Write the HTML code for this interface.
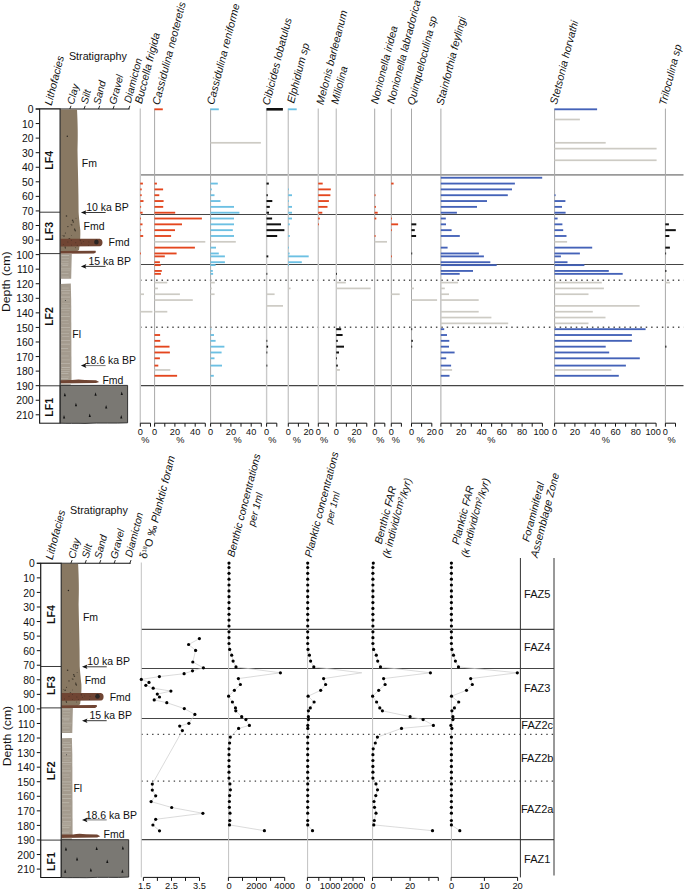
<!DOCTYPE html>
<html><head><meta charset="utf-8"><style>
html,body{margin:0;padding:0;background:#fff;overflow:hidden;width:685px;height:891px;}
svg{display:block;}
text{font-family:"Liberation Sans",sans-serif;fill:#111;}
</style></head><body>
<svg width="685" height="891" viewBox="0 0 685 891">
<g id="strat">
<line x1="39.7" y1="109" x2="39.7" y2="423.3" stroke="#111" stroke-width="1"/>
<line x1="35.7" y1="109.00" x2="39.7" y2="109.00" stroke="#111" stroke-width="1"/>
<text x="33.6" y="113.10" text-anchor="end" font-size="10.4">0</text>
<line x1="35.7" y1="123.56" x2="39.7" y2="123.56" stroke="#111" stroke-width="1"/>
<text x="33.6" y="127.66" text-anchor="end" font-size="10.4">10</text>
<line x1="35.7" y1="138.12" x2="39.7" y2="138.12" stroke="#111" stroke-width="1"/>
<text x="33.6" y="142.22" text-anchor="end" font-size="10.4">20</text>
<line x1="35.7" y1="152.69" x2="39.7" y2="152.69" stroke="#111" stroke-width="1"/>
<text x="33.6" y="156.79" text-anchor="end" font-size="10.4">30</text>
<line x1="35.7" y1="167.25" x2="39.7" y2="167.25" stroke="#111" stroke-width="1"/>
<text x="33.6" y="171.35" text-anchor="end" font-size="10.4">40</text>
<line x1="35.7" y1="181.81" x2="39.7" y2="181.81" stroke="#111" stroke-width="1"/>
<text x="33.6" y="185.91" text-anchor="end" font-size="10.4">50</text>
<line x1="35.7" y1="196.37" x2="39.7" y2="196.37" stroke="#111" stroke-width="1"/>
<text x="33.6" y="200.47" text-anchor="end" font-size="10.4">60</text>
<line x1="35.7" y1="210.93" x2="39.7" y2="210.93" stroke="#111" stroke-width="1"/>
<text x="33.6" y="215.03" text-anchor="end" font-size="10.4">70</text>
<line x1="35.7" y1="225.50" x2="39.7" y2="225.50" stroke="#111" stroke-width="1"/>
<text x="33.6" y="229.60" text-anchor="end" font-size="10.4">80</text>
<line x1="35.7" y1="240.06" x2="39.7" y2="240.06" stroke="#111" stroke-width="1"/>
<text x="33.6" y="244.16" text-anchor="end" font-size="10.4">90</text>
<line x1="35.7" y1="254.62" x2="39.7" y2="254.62" stroke="#111" stroke-width="1"/>
<text x="33.6" y="258.72" text-anchor="end" font-size="10.4">100</text>
<line x1="35.7" y1="269.18" x2="39.7" y2="269.18" stroke="#111" stroke-width="1"/>
<text x="33.6" y="273.28" text-anchor="end" font-size="10.4">110</text>
<line x1="35.7" y1="283.74" x2="39.7" y2="283.74" stroke="#111" stroke-width="1"/>
<text x="33.6" y="287.84" text-anchor="end" font-size="10.4">120</text>
<line x1="35.7" y1="298.31" x2="39.7" y2="298.31" stroke="#111" stroke-width="1"/>
<text x="33.6" y="302.41" text-anchor="end" font-size="10.4">130</text>
<line x1="35.7" y1="312.87" x2="39.7" y2="312.87" stroke="#111" stroke-width="1"/>
<text x="33.6" y="316.97" text-anchor="end" font-size="10.4">140</text>
<line x1="35.7" y1="327.43" x2="39.7" y2="327.43" stroke="#111" stroke-width="1"/>
<text x="33.6" y="331.53" text-anchor="end" font-size="10.4">150</text>
<line x1="35.7" y1="341.99" x2="39.7" y2="341.99" stroke="#111" stroke-width="1"/>
<text x="33.6" y="346.09" text-anchor="end" font-size="10.4">160</text>
<line x1="35.7" y1="356.55" x2="39.7" y2="356.55" stroke="#111" stroke-width="1"/>
<text x="33.6" y="360.65" text-anchor="end" font-size="10.4">170</text>
<line x1="35.7" y1="371.12" x2="39.7" y2="371.12" stroke="#111" stroke-width="1"/>
<text x="33.6" y="375.22" text-anchor="end" font-size="10.4">180</text>
<line x1="35.7" y1="385.68" x2="39.7" y2="385.68" stroke="#111" stroke-width="1"/>
<text x="33.6" y="389.78" text-anchor="end" font-size="10.4">190</text>
<line x1="35.7" y1="400.24" x2="39.7" y2="400.24" stroke="#111" stroke-width="1"/>
<text x="33.6" y="404.34" text-anchor="end" font-size="10.4">200</text>
<line x1="35.7" y1="414.80" x2="39.7" y2="414.80" stroke="#111" stroke-width="1"/>
<text x="33.6" y="418.90" text-anchor="end" font-size="10.4">210</text>
<text transform="translate(9.9,281.8) rotate(-90)" text-anchor="middle" font-size="11.6" textLength="60.5" lengthAdjust="spacingAndGlyphs">Depth (cm)</text>
<line x1="35.7" y1="109" x2="129.6" y2="109" stroke="#111" stroke-width="1.1"/>
<line x1="69.8" y1="109" x2="71.0" y2="105.8" stroke="#111" stroke-width="0.9"/>
<line x1="84.0" y1="109" x2="85.2" y2="105.8" stroke="#111" stroke-width="0.9"/>
<line x1="98.5" y1="109" x2="99.7" y2="105.8" stroke="#111" stroke-width="0.9"/>
<line x1="113.0" y1="109" x2="114.2" y2="105.8" stroke="#111" stroke-width="0.9"/>
<line x1="128.7" y1="109" x2="129.9" y2="105.8" stroke="#111" stroke-width="0.9"/>
<rect x="39.7" y="109" width="20.5" height="314.2" fill="#fff" stroke="#111" stroke-width="1"/>
<line x1="39.7" y1="212.2" x2="60.2" y2="212.2" stroke="#222" stroke-width="0.9"/>
<line x1="39.7" y1="253.6" x2="60.2" y2="253.6" stroke="#222" stroke-width="0.9"/>
<line x1="39.7" y1="385.8" x2="60.2" y2="385.8" stroke="#222" stroke-width="0.9"/>
<text transform="translate(53.4,160.3) rotate(-90)" text-anchor="middle" font-size="10.5" font-weight="bold">LF4</text>
<text transform="translate(53.4,231.3) rotate(-90)" text-anchor="middle" font-size="10.5" font-weight="bold">LF3</text>
<text transform="translate(53.4,316.5) rotate(-90)" text-anchor="middle" font-size="10.5" font-weight="bold">LF2</text>
<text transform="translate(53.4,407.3) rotate(-90)" text-anchor="middle" font-size="10.5" font-weight="bold">LF1</text>
<path d="M60.2,109.5 L77,109.5 C77.8,125 78,135 77.5,150 C77.8,170 78.6,190 78.6,212 C79,218 79.5,222 80.3,230 C80.5,236 80.2,240 79.5,246 L79,250 L76.7,251.5 L60.2,251.5 Z" fill="#887862"/>
<circle cx="65.4" cy="233.0" r="0.57" fill="#3a3328"/>
<circle cx="71.5" cy="235.6" r="0.43" fill="#3a3328"/>
<circle cx="61.7" cy="242.6" r="0.52" fill="#3a3328"/>
<circle cx="65.4" cy="247.9" r="0.61" fill="#3a3328"/>
<circle cx="75.3" cy="230.7" r="0.69" fill="#3a3328"/>
<circle cx="64.0" cy="236.0" r="0.79" fill="#3a3328"/>
<circle cx="70.1" cy="239.5" r="0.70" fill="#3a3328"/>
<circle cx="62.6" cy="240.0" r="0.67" fill="#3a3328"/>
<circle cx="66.5" cy="216.0" r="0.79" fill="#3a3328"/>
<circle cx="69.3" cy="238.7" r="0.80" fill="#3a3328"/>
<circle cx="73.3" cy="245.4" r="0.58" fill="#3a3328"/>
<circle cx="74.7" cy="229.7" r="0.82" fill="#3a3328"/>
<circle cx="76.0" cy="218.2" r="0.46" fill="#3a3328"/>
<circle cx="65.1" cy="246.9" r="0.60" fill="#3a3328"/>
<circle cx="71.8" cy="224.9" r="0.63" fill="#3a3328"/>
<circle cx="67.9" cy="226.6" r="0.66" fill="#3a3328"/>
<circle cx="71.1" cy="244.8" r="0.71" fill="#3a3328"/>
<circle cx="76.8" cy="243.3" r="0.85" fill="#3a3328"/>
<circle cx="72.6" cy="220.4" r="0.79" fill="#3a3328"/>
<circle cx="77.4" cy="244.9" r="0.66" fill="#3a3328"/>
<circle cx="73.3" cy="222.0" r="0.77" fill="#3a3328"/>
<circle cx="71.0" cy="224.4" r="0.43" fill="#3a3328"/>
<circle cx="75.6" cy="247.7" r="0.44" fill="#3a3328"/>
<circle cx="74.7" cy="228.5" r="0.47" fill="#3a3328"/>
<circle cx="66.3" cy="240.4" r="0.79" fill="#3a3328"/>
<circle cx="62.2" cy="235.3" r="0.42" fill="#3a3328"/>
<circle cx="67.3" cy="136.2" r="0.7" fill="#2a2520"/>
<path d="M60.2,238.7 L99.8,238.7 C103.4,239.0 103.4,246.0 99.8,246.3 L60.2,246.4 Z" fill="#704533"/>
<ellipse cx="96.4" cy="242" rx="2.3" ry="2.5" fill="#2b2624"/>
<circle cx="83.6" cy="241.6" r="0.45" fill="#3a2a22"/>
<circle cx="88.4" cy="245.2" r="0.45" fill="#3a2a22"/>
<circle cx="77.2" cy="245.3" r="0.45" fill="#3a2a22"/>
<circle cx="71.3" cy="240.2" r="0.45" fill="#3a2a22"/>
<circle cx="80.0" cy="240.0" r="0.45" fill="#3a2a22"/>
<circle cx="67.9" cy="242.0" r="0.45" fill="#3a2a22"/>
<circle cx="80.3" cy="240.7" r="0.45" fill="#3a2a22"/>
<circle cx="63.3" cy="244.6" r="0.45" fill="#3a2a22"/>
<circle cx="71.4" cy="245.1" r="0.45" fill="#3a2a22"/>
<circle cx="88.9" cy="241.9" r="0.45" fill="#3a2a22"/>
<circle cx="75.8" cy="242.7" r="0.45" fill="#3a2a22"/>
<circle cx="81.3" cy="243.1" r="0.45" fill="#3a2a22"/>
<path d="M60.2,251 L95.5,250.8 L96,252.3 L94,253.6 L60.2,253.8 Z" fill="#704533"/>
<path d="M60.2,253.8 L71.8,253.8 L71.5,265 L71.2,278.8 L60.2,278.8 Z" fill="#a49b8e"/>
<path d="M60.2,284 L70.8,283.6 L71.2,300 L71.5,381 L60.2,381 Z" fill="#a49b8e"/>
<line x1="61.5" y1="255.5" x2="69.2" y2="255.5" stroke="#d2cdc5" stroke-width="0.55" opacity="0.91"/>
<line x1="61.6" y1="258.4" x2="69.1" y2="258.4" stroke="#d2cdc5" stroke-width="0.55" opacity="0.54"/>
<line x1="61.7" y1="261.4" x2="68.6" y2="261.4" stroke="#d2cdc5" stroke-width="0.55" opacity="0.50"/>
<line x1="60.9" y1="263.9" x2="68.6" y2="263.9" stroke="#d2cdc5" stroke-width="0.55" opacity="0.80"/>
<line x1="62.3" y1="265.6" x2="68.2" y2="265.6" stroke="#d2cdc5" stroke-width="0.55" opacity="0.78"/>
<line x1="61.0" y1="268.9" x2="70.6" y2="268.9" stroke="#d2cdc5" stroke-width="0.55" opacity="0.71"/>
<line x1="61.1" y1="270.7" x2="70.0" y2="270.7" stroke="#d2cdc5" stroke-width="0.55" opacity="0.47"/>
<line x1="61.5" y1="273.6" x2="68.5" y2="273.6" stroke="#d2cdc5" stroke-width="0.55" opacity="0.71"/>
<line x1="61.5" y1="277.0" x2="68.9" y2="277.0" stroke="#d2cdc5" stroke-width="0.55" opacity="0.68"/>
<line x1="62.1" y1="288.1" x2="68.8" y2="288.1" stroke="#d2cdc5" stroke-width="0.55" opacity="0.61"/>
<line x1="61.2" y1="290.4" x2="70.4" y2="290.4" stroke="#d2cdc5" stroke-width="0.55" opacity="0.83"/>
<line x1="62.1" y1="293.1" x2="69.6" y2="293.1" stroke="#d2cdc5" stroke-width="0.55" opacity="0.93"/>
<line x1="60.8" y1="297.1" x2="70.1" y2="297.1" stroke="#d2cdc5" stroke-width="0.55" opacity="0.91"/>
<line x1="62.3" y1="300.0" x2="69.6" y2="300.0" stroke="#d2cdc5" stroke-width="0.55" opacity="0.49"/>
<line x1="62.0" y1="303.4" x2="69.9" y2="303.4" stroke="#d2cdc5" stroke-width="0.55" opacity="0.49"/>
<line x1="62.2" y1="305.9" x2="68.7" y2="305.9" stroke="#d2cdc5" stroke-width="0.55" opacity="0.51"/>
<line x1="61.0" y1="308.2" x2="70.5" y2="308.2" stroke="#d2cdc5" stroke-width="0.55" opacity="0.85"/>
<line x1="61.6" y1="310.3" x2="69.5" y2="310.3" stroke="#d2cdc5" stroke-width="0.55" opacity="0.55"/>
<line x1="61.0" y1="313.9" x2="69.0" y2="313.9" stroke="#d2cdc5" stroke-width="0.55" opacity="0.51"/>
<line x1="61.1" y1="316.7" x2="69.9" y2="316.7" stroke="#d2cdc5" stroke-width="0.55" opacity="0.94"/>
<line x1="61.3" y1="320.6" x2="68.4" y2="320.6" stroke="#d2cdc5" stroke-width="0.55" opacity="0.56"/>
<line x1="62.1" y1="323.3" x2="69.0" y2="323.3" stroke="#d2cdc5" stroke-width="0.55" opacity="0.50"/>
<line x1="61.1" y1="327.6" x2="70.0" y2="327.6" stroke="#d2cdc5" stroke-width="0.55" opacity="0.84"/>
<line x1="61.2" y1="330.2" x2="70.4" y2="330.2" stroke="#d2cdc5" stroke-width="0.55" opacity="0.50"/>
<line x1="61.2" y1="333.4" x2="69.1" y2="333.4" stroke="#d2cdc5" stroke-width="0.55" opacity="0.64"/>
<line x1="62.2" y1="336.3" x2="69.4" y2="336.3" stroke="#d2cdc5" stroke-width="0.55" opacity="0.74"/>
<line x1="61.1" y1="340.3" x2="70.2" y2="340.3" stroke="#d2cdc5" stroke-width="0.55" opacity="0.90"/>
<line x1="61.2" y1="344.2" x2="70.1" y2="344.2" stroke="#d2cdc5" stroke-width="0.55" opacity="0.82"/>
<line x1="61.1" y1="348.4" x2="68.2" y2="348.4" stroke="#d2cdc5" stroke-width="0.55" opacity="0.89"/>
<line x1="61.4" y1="351.7" x2="70.3" y2="351.7" stroke="#d2cdc5" stroke-width="0.55" opacity="0.47"/>
<line x1="61.2" y1="356.0" x2="68.8" y2="356.0" stroke="#d2cdc5" stroke-width="0.55" opacity="0.58"/>
<line x1="61.7" y1="359.9" x2="69.9" y2="359.9" stroke="#d2cdc5" stroke-width="0.55" opacity="0.54"/>
<line x1="60.9" y1="363.5" x2="70.0" y2="363.5" stroke="#d2cdc5" stroke-width="0.55" opacity="0.73"/>
<line x1="61.7" y1="367.5" x2="69.9" y2="367.5" stroke="#d2cdc5" stroke-width="0.55" opacity="0.91"/>
<line x1="60.8" y1="369.7" x2="69.9" y2="369.7" stroke="#d2cdc5" stroke-width="0.55" opacity="0.67"/>
<line x1="61.1" y1="371.4" x2="69.7" y2="371.4" stroke="#d2cdc5" stroke-width="0.55" opacity="0.74"/>
<line x1="61.3" y1="373.4" x2="68.4" y2="373.4" stroke="#d2cdc5" stroke-width="0.55" opacity="0.94"/>
<line x1="61.8" y1="376.8" x2="69.1" y2="376.8" stroke="#d2cdc5" stroke-width="0.55" opacity="0.52"/>
<line x1="60.8" y1="378.5" x2="68.3" y2="378.5" stroke="#d2cdc5" stroke-width="0.55" opacity="0.80"/>
<circle cx="65.4" cy="300.5" r="0.5" fill="#333"/>
<path d="M60.2,380.2 L72,380.1 C76,379.2 80,379.2 85,379.9 L96,380.3 L99.2,381.9 L96,383.1 L60.2,383.6 Z" fill="#704533"/>
<rect x="60.2" y="383.6" width="10.5" height="2" fill="#bdb7ad"/>
<path d="M60.2,385.4 L127.6,385.4 L127.6,422.8 C115,423.5 100,422.6 85,423.4 C75,423.2 68,423.5 60.2,423.2 Z" fill="#7a7873" stroke="#222" stroke-width="0.9"/>
<path d="M63.8,396.3 L64.8,392.8 L66.0,396.3 Z" fill="#111"/>
<path d="M94.5,395.7 L95.5,392.2 L96.7,395.7 Z" fill="#111"/>
<path d="M120.7,395.1 L121.7,391.6 L122.9,395.1 Z" fill="#111"/>
<path d="M74.9,406.2 L75.9,402.7 L77.1,406.2 Z" fill="#111"/>
<path d="M105.1,408.6 L106.1,405.1 L107.3,408.6 Z" fill="#111"/>
<path d="M63.0,418.5 L64.0,415.0 L65.2,418.5 Z" fill="#111"/>
<path d="M88.7,417.1 L89.7,413.6 L90.9,417.1 Z" fill="#111"/>
<path d="M120.2,418.5 L121.2,415.0 L122.4,418.5 Z" fill="#111"/>
<line x1="60.2" y1="109" x2="60.2" y2="423.2" stroke="#333" stroke-width="0.9"/>
<line x1="83.2" y1="212.5" x2="105.6" y2="212.5" stroke="#222" stroke-width="0.9"/>
<path d="M80.9,212.5 L86.4,210.2 L85.2,212.5 L86.4,214.8 Z" fill="#111"/>
<line x1="83.2" y1="266.4" x2="105.6" y2="266.4" stroke="#222" stroke-width="0.9"/>
<path d="M80.9,266.4 L86.4,264.09999999999997 L85.2,266.4 L86.4,268.7 Z" fill="#111"/>
<line x1="83.2" y1="365.6" x2="105.6" y2="365.6" stroke="#666" stroke-width="0.9"/>
<path d="M80.9,365.6 L86.4,363.3 L85.2,365.6 L86.4,367.90000000000003 Z" fill="#111"/>
<text x="86.2" y="211" font-size="10.5">10 ka BP</text>
<text x="88.4" y="264.8" font-size="10.5">15 ka BP</text>
<text x="84.6" y="364.3" font-size="10.5">18.6 ka BP</text>
<text x="81.8" y="166.8" font-size="10.5">Fm</text>
<text x="83.6" y="229.6" font-size="10.5">Fmd</text>
<text x="108.6" y="246.4" font-size="10.5">Fmd</text>
<text x="102.4" y="383.6" font-size="10.5">Fmd</text>
<text x="72.3" y="337.8" font-size="10.5">Fl</text>
<text x="68.9" y="59.7" font-size="10.75">Stratigraphy</text>
<text transform="translate(51.45,106.0) rotate(-75.5)" font-size="10.65" font-style="italic">Lithofacies</text>
<text transform="translate(73.85,104.95) rotate(-75.5)" font-size="10.3" font-style="italic">Clay</text>
<text transform="translate(87.45,104.5) rotate(-75.5)" font-size="10.3" font-style="italic">Silt</text>
<text transform="translate(99.95,104.9) rotate(-75.5)" font-size="10.3" font-style="italic">Sand</text>
<text transform="translate(115.85,105.1) rotate(-75.5)" font-size="10.3" font-style="italic">Gravel</text>
<text transform="translate(130.7,103.45) rotate(-75.5)" font-size="10.3" font-style="italic">Diamicton</text>
</g>
<use href="#strat" transform="translate(1.1,454.3)"/>
<line x1="140" y1="174.9" x2="683.5" y2="174.9" stroke="#9a9a9a" stroke-width="1.8"/>
<line x1="140" y1="214.5" x2="683.5" y2="214.5" stroke="#454545" stroke-width="1.2"/>
<line x1="140" y1="264.5" x2="683.5" y2="264.5" stroke="#454545" stroke-width="1.2"/>
<line x1="140" y1="385.6" x2="683.5" y2="385.6" stroke="#454545" stroke-width="1.2"/>
<line x1="140" y1="280.3" x2="683.5" y2="280.3" stroke="#555" stroke-width="1.5" stroke-dasharray="1.5 3.88"/>
<line x1="140" y1="327.3" x2="683.5" y2="327.3" stroke="#555" stroke-width="1.5" stroke-dasharray="1.5 3.88"/>
<line x1="140.3" y1="108.6" x2="140.3" y2="423.2" stroke="#c9c9c9" stroke-width="1.4"/>
<rect x="140.2" y="293.39" width="3.8" height="1.7" fill="#cdcbc4"/>
<rect x="140.2" y="310.86" width="12.2" height="1.7" fill="#cdcbc4"/>
<rect x="140.2" y="182.64" width="2.7" height="1.85" fill="#e4461e"/>
<rect x="140.2" y="188.47" width="1.5" height="1.85" fill="#e4461e"/>
<rect x="140.2" y="194.29" width="1.5" height="1.85" fill="#e4461e"/>
<rect x="140.2" y="200.12" width="3.3" height="1.85" fill="#e4461e"/>
<rect x="140.2" y="205.94" width="0.9" height="1.85" fill="#e4461e"/>
<rect x="140.2" y="211.77" width="2.4" height="1.85" fill="#e4461e"/>
<rect x="140.2" y="217.59" width="0.8" height="1.85" fill="#e4461e"/>
<rect x="140.2" y="223.41" width="2.3" height="1.85" fill="#e4461e"/>
<rect x="140.2" y="229.24" width="0.9" height="1.85" fill="#e4461e"/>
<rect x="140.2" y="235.06" width="3.0" height="1.85" fill="#e4461e"/>
<rect x="140.2" y="252.54" width="0.8" height="1.85" fill="#e4461e"/>
<path d="M140.3,426.7 L140.3,423.2 L150.5,423.2 L150.5,426.7" fill="none" stroke="#111" stroke-width="1"/>
<text x="140.3" y="435.2" text-anchor="middle" font-size="9.2">0</text>
<text x="145.4" y="443.2" text-anchor="middle" font-size="9.2">%</text>
<text transform="translate(141.85,104.2) rotate(-75.5)" font-size="10.75" font-style="italic">Buccella frigida</text>
<line x1="154.6" y1="108.6" x2="154.6" y2="423.2" stroke="#a8a8a8" stroke-width="1"/>
<rect x="154.5" y="240.96" width="50.8" height="1.7" fill="#cdcbc4"/>
<rect x="154.5" y="281.74" width="12.8" height="1.7" fill="#cdcbc4"/>
<rect x="154.5" y="287.56" width="3.4" height="1.7" fill="#cdcbc4"/>
<rect x="154.5" y="293.39" width="25.4" height="1.7" fill="#cdcbc4"/>
<rect x="154.5" y="299.21" width="38.3" height="1.7" fill="#cdcbc4"/>
<rect x="154.5" y="310.86" width="12.8" height="1.7" fill="#cdcbc4"/>
<rect x="154.5" y="369.11" width="15.8" height="1.7" fill="#cdcbc4"/>
<rect x="154.5" y="108.38" width="8.3" height="1.85" fill="#e4461e"/>
<rect x="154.5" y="182.64" width="2.4" height="1.85" fill="#e4461e"/>
<rect x="154.5" y="188.47" width="8.6" height="1.85" fill="#e4461e"/>
<rect x="154.5" y="194.29" width="4.8" height="1.85" fill="#e4461e"/>
<rect x="154.5" y="200.12" width="9.1" height="1.85" fill="#e4461e"/>
<rect x="154.5" y="205.94" width="8.7" height="1.85" fill="#e4461e"/>
<rect x="154.5" y="211.77" width="20.7" height="1.85" fill="#e4461e"/>
<rect x="154.5" y="217.59" width="47.4" height="1.85" fill="#e4461e"/>
<rect x="154.5" y="223.41" width="27.5" height="1.85" fill="#e4461e"/>
<rect x="154.5" y="229.24" width="20.5" height="1.85" fill="#e4461e"/>
<rect x="154.5" y="235.06" width="16.6" height="1.85" fill="#e4461e"/>
<rect x="154.5" y="246.71" width="40.4" height="1.85" fill="#e4461e"/>
<rect x="154.5" y="252.54" width="22.1" height="1.85" fill="#e4461e"/>
<rect x="154.5" y="255.45" width="10.3" height="1.85" fill="#e4461e"/>
<rect x="154.5" y="261.28" width="5.4" height="1.85" fill="#e4461e"/>
<rect x="154.5" y="264.19" width="6.2" height="1.85" fill="#e4461e"/>
<rect x="154.5" y="270.01" width="7.3" height="1.85" fill="#e4461e"/>
<rect x="154.5" y="272.93" width="6.4" height="1.85" fill="#e4461e"/>
<rect x="154.5" y="334.09" width="5.6" height="1.85" fill="#e4461e"/>
<rect x="154.5" y="339.91" width="5.8" height="1.85" fill="#e4461e"/>
<rect x="154.5" y="345.74" width="15.0" height="1.85" fill="#e4461e"/>
<rect x="154.5" y="351.56" width="15.4" height="1.85" fill="#e4461e"/>
<rect x="154.5" y="357.39" width="5.4" height="1.85" fill="#e4461e"/>
<rect x="154.5" y="364.67" width="3.8" height="1.85" fill="#e4461e"/>
<rect x="154.5" y="374.86" width="22.6" height="1.85" fill="#e4461e"/>
<path d="M154.6,426.7 L154.6,423.2 L205.3,423.2 L205.3,426.7" fill="none" stroke="#111" stroke-width="1"/>
<line x1="164.8" y1="423.2" x2="164.8" y2="426.7" stroke="#111" stroke-width="1"/>
<line x1="174.9" y1="423.2" x2="174.9" y2="426.7" stroke="#111" stroke-width="1"/>
<line x1="185.0" y1="423.2" x2="185.0" y2="426.7" stroke="#111" stroke-width="1"/>
<line x1="195.2" y1="423.2" x2="195.2" y2="426.7" stroke="#111" stroke-width="1"/>
<text x="154.6" y="435.2" text-anchor="middle" font-size="9.2">0</text>
<text x="174.9" y="435.2" text-anchor="middle" font-size="9.2">20</text>
<text x="195.2" y="435.2" text-anchor="middle" font-size="9.2">40</text>
<text x="180.4" y="443.2" text-anchor="middle" font-size="9.2">%</text>
<text transform="translate(159.25,105.4) rotate(-75.5)" font-size="10.75" font-style="italic">Cassidulina neoteretis</text>
<line x1="210.6" y1="108.6" x2="210.6" y2="423.2" stroke="#a8a8a8" stroke-width="1"/>
<rect x="210.5" y="141.94" width="50.4" height="1.7" fill="#cdcbc4"/>
<rect x="210.5" y="240.96" width="25.3" height="1.7" fill="#cdcbc4"/>
<rect x="210.5" y="281.74" width="4.3" height="1.7" fill="#cdcbc4"/>
<rect x="210.5" y="287.56" width="1.3" height="1.7" fill="#cdcbc4"/>
<rect x="210.5" y="293.39" width="4.1" height="1.7" fill="#cdcbc4"/>
<rect x="210.5" y="108.38" width="8.3" height="1.85" fill="#6cc0e3"/>
<rect x="210.5" y="182.64" width="7.3" height="1.85" fill="#6cc0e3"/>
<rect x="210.5" y="188.47" width="1.3" height="1.85" fill="#6cc0e3"/>
<rect x="210.5" y="194.29" width="4.0" height="1.85" fill="#6cc0e3"/>
<rect x="210.5" y="200.12" width="10.0" height="1.85" fill="#6cc0e3"/>
<rect x="210.5" y="205.94" width="23.5" height="1.85" fill="#6cc0e3"/>
<rect x="210.5" y="211.77" width="28.9" height="1.85" fill="#6cc0e3"/>
<rect x="210.5" y="217.59" width="23.5" height="1.85" fill="#6cc0e3"/>
<rect x="210.5" y="223.41" width="23.5" height="1.85" fill="#6cc0e3"/>
<rect x="210.5" y="229.24" width="22.3" height="1.85" fill="#6cc0e3"/>
<rect x="210.5" y="235.06" width="23.5" height="1.85" fill="#6cc0e3"/>
<rect x="210.5" y="246.71" width="5.5" height="1.85" fill="#6cc0e3"/>
<rect x="210.5" y="252.54" width="8.3" height="1.85" fill="#6cc0e3"/>
<rect x="210.5" y="255.45" width="14.4" height="1.85" fill="#6cc0e3"/>
<rect x="210.5" y="261.28" width="14.4" height="1.85" fill="#6cc0e3"/>
<rect x="210.5" y="264.19" width="5.1" height="1.85" fill="#6cc0e3"/>
<rect x="210.5" y="270.01" width="2.3" height="1.85" fill="#6cc0e3"/>
<rect x="210.5" y="272.93" width="2.6" height="1.85" fill="#6cc0e3"/>
<rect x="210.5" y="328.26" width="0.9" height="1.85" fill="#6cc0e3"/>
<rect x="210.5" y="334.09" width="3.5" height="1.85" fill="#6cc0e3"/>
<rect x="210.5" y="339.91" width="5.1" height="1.85" fill="#6cc0e3"/>
<rect x="210.5" y="345.74" width="13.9" height="1.85" fill="#6cc0e3"/>
<rect x="210.5" y="351.56" width="11.1" height="1.85" fill="#6cc0e3"/>
<rect x="210.5" y="357.39" width="4.0" height="1.85" fill="#6cc0e3"/>
<rect x="210.5" y="364.67" width="11.5" height="1.85" fill="#6cc0e3"/>
<rect x="210.5" y="374.86" width="3.3" height="1.85" fill="#6cc0e3"/>
<path d="M210.6,426.7 L210.6,423.2 L261.3,423.2 L261.3,426.7" fill="none" stroke="#111" stroke-width="1"/>
<line x1="220.8" y1="423.2" x2="220.8" y2="426.7" stroke="#111" stroke-width="1"/>
<line x1="230.9" y1="423.2" x2="230.9" y2="426.7" stroke="#111" stroke-width="1"/>
<line x1="241.0" y1="423.2" x2="241.0" y2="426.7" stroke="#111" stroke-width="1"/>
<line x1="251.2" y1="423.2" x2="251.2" y2="426.7" stroke="#111" stroke-width="1"/>
<text x="210.6" y="435.2" text-anchor="middle" font-size="9.2">0</text>
<text x="230.9" y="435.2" text-anchor="middle" font-size="9.2">20</text>
<text x="251.2" y="435.2" text-anchor="middle" font-size="9.2">40</text>
<text x="237.5" y="443.2" text-anchor="middle" font-size="9.2">%</text>
<text transform="translate(213.75,105.35) rotate(-75.5)" font-size="10.75" font-style="italic">Cassidulina reniforme</text>
<line x1="266.6" y1="108.6" x2="266.6" y2="423.2" stroke="#c9c9c9" stroke-width="1.4"/>
<rect x="266.5" y="293.39" width="8.1" height="1.7" fill="#cdcbc4"/>
<rect x="266.5" y="305.04" width="16.5" height="1.7" fill="#cdcbc4"/>
<rect x="266.5" y="108.00" width="16.4" height="2.6" fill="#111"/>
<rect x="266.5" y="182.57" width="2.3" height="2.0" fill="#111"/>
<rect x="266.5" y="194.22" width="1.3" height="2.0" fill="#111"/>
<rect x="266.5" y="200.04" width="5.8" height="2.0" fill="#111"/>
<rect x="266.5" y="205.87" width="3.3" height="2.0" fill="#111"/>
<rect x="266.5" y="211.69" width="2.5" height="2.0" fill="#111"/>
<rect x="266.5" y="217.51" width="5.6" height="2.0" fill="#111"/>
<rect x="266.5" y="223.34" width="14.5" height="2.0" fill="#111"/>
<rect x="266.5" y="229.16" width="17.9" height="2.0" fill="#111"/>
<rect x="266.5" y="234.99" width="10.7" height="2.0" fill="#111"/>
<rect x="266.5" y="255.38" width="1.8" height="2.0" fill="#111"/>
<rect x="266.5" y="272.85" width="0.8" height="2.0" fill="#111"/>
<rect x="266.5" y="339.84" width="0.8" height="2.0" fill="#111"/>
<rect x="266.5" y="345.66" width="1.6" height="2.0" fill="#111"/>
<rect x="266.5" y="351.49" width="0.8" height="2.0" fill="#111"/>
<rect x="266.5" y="364.59" width="0.8" height="2.0" fill="#111"/>
<path d="M266.6,426.7 L266.6,423.2 L276.8,423.2 L276.8,426.7" fill="none" stroke="#111" stroke-width="1"/>
<text x="266.6" y="435.2" text-anchor="middle" font-size="9.2">0</text>
<text x="272.4" y="443.2" text-anchor="middle" font-size="9.2">%</text>
<text transform="translate(269.35,105.8) rotate(-75.5)" font-size="10.75" font-style="italic">Cibicides lobatulus</text>
<line x1="288.3" y1="108.6" x2="288.3" y2="423.2" stroke="#c9c9c9" stroke-width="1.4"/>
<rect x="288.2" y="287.56" width="2.4" height="1.7" fill="#cdcbc4"/>
<rect x="288.2" y="108.38" width="8.5" height="1.85" fill="#6cc0e3"/>
<rect x="288.2" y="188.47" width="0.8" height="1.85" fill="#6cc0e3"/>
<rect x="288.2" y="194.29" width="3.8" height="1.85" fill="#6cc0e3"/>
<rect x="288.2" y="200.12" width="0.8" height="1.85" fill="#6cc0e3"/>
<rect x="288.2" y="205.94" width="3.8" height="1.85" fill="#6cc0e3"/>
<rect x="288.2" y="211.77" width="3.8" height="1.85" fill="#6cc0e3"/>
<rect x="288.2" y="217.59" width="3.8" height="1.85" fill="#6cc0e3"/>
<rect x="288.2" y="223.41" width="1.6" height="1.85" fill="#6cc0e3"/>
<rect x="288.2" y="235.06" width="1.6" height="1.85" fill="#6cc0e3"/>
<rect x="288.2" y="246.71" width="0.8" height="1.85" fill="#6cc0e3"/>
<rect x="288.2" y="252.54" width="1.4" height="1.85" fill="#6cc0e3"/>
<rect x="288.2" y="255.45" width="20.5" height="1.85" fill="#6cc0e3"/>
<rect x="288.2" y="261.28" width="13.6" height="1.85" fill="#6cc0e3"/>
<rect x="288.2" y="264.19" width="0.8" height="1.85" fill="#6cc0e3"/>
<path d="M288.3,426.7 L288.3,423.2 L308.6,423.2 L308.6,426.7" fill="none" stroke="#111" stroke-width="1"/>
<line x1="298.4" y1="423.2" x2="298.4" y2="426.7" stroke="#111" stroke-width="1"/>
<text x="288.3" y="435.2" text-anchor="middle" font-size="9.2">0</text>
<text x="308.6" y="435.2" text-anchor="middle" font-size="9.2">20</text>
<text x="296.9" y="443.2" text-anchor="middle" font-size="9.2">%</text>
<text transform="translate(294.0,103.75) rotate(-75.5)" font-size="10.75" font-style="italic">Elphidium sp</text>
<line x1="318.3" y1="108.6" x2="318.3" y2="423.2" stroke="#c9c9c9" stroke-width="1.4"/>
<rect x="318.2" y="182.64" width="4.5" height="1.85" fill="#e4461e"/>
<rect x="318.2" y="188.47" width="12.6" height="1.85" fill="#e4461e"/>
<rect x="318.2" y="194.29" width="12.2" height="1.85" fill="#e4461e"/>
<rect x="318.2" y="200.12" width="10.7" height="1.85" fill="#e4461e"/>
<rect x="318.2" y="205.94" width="9.3" height="1.85" fill="#e4461e"/>
<rect x="318.2" y="211.77" width="4.1" height="1.85" fill="#e4461e"/>
<rect x="318.2" y="217.59" width="1.6" height="1.85" fill="#e4461e"/>
<rect x="318.2" y="223.41" width="0.8" height="1.85" fill="#e4461e"/>
<path d="M318.3,426.7 L318.3,423.2 L328.4,423.2 L328.4,426.7" fill="none" stroke="#111" stroke-width="1"/>
<text x="318.3" y="435.2" text-anchor="middle" font-size="9.2">0</text>
<text x="324.1" y="443.2" text-anchor="middle" font-size="9.2">%</text>
<text transform="translate(323.35,105.15) rotate(-75.5)" font-size="10.75" font-style="italic">Melonis barleeanum</text>
<line x1="336.3" y1="108.6" x2="336.3" y2="423.2" stroke="#c9c9c9" stroke-width="1.4"/>
<rect x="336.2" y="281.74" width="9.6" height="1.7" fill="#cdcbc4"/>
<rect x="336.2" y="287.56" width="34.5" height="1.7" fill="#cdcbc4"/>
<rect x="336.2" y="369.11" width="3.7" height="1.7" fill="#cdcbc4"/>
<rect x="336.2" y="272.85" width="0.8" height="2.0" fill="#111"/>
<rect x="336.2" y="328.19" width="5.0" height="2.0" fill="#111"/>
<rect x="336.2" y="334.01" width="6.4" height="2.0" fill="#111"/>
<rect x="336.2" y="339.84" width="1.6" height="2.0" fill="#111"/>
<rect x="336.2" y="345.66" width="7.8" height="2.0" fill="#111"/>
<rect x="336.2" y="351.49" width="2.8" height="2.0" fill="#111"/>
<rect x="336.2" y="357.31" width="0.8" height="2.0" fill="#111"/>
<rect x="336.2" y="364.59" width="1.6" height="2.0" fill="#111"/>
<path d="M336.3,426.7 L336.3,423.2 L366.8,423.2 L366.8,426.7" fill="none" stroke="#111" stroke-width="1"/>
<line x1="346.4" y1="423.2" x2="346.4" y2="426.7" stroke="#111" stroke-width="1"/>
<line x1="356.6" y1="423.2" x2="356.6" y2="426.7" stroke="#111" stroke-width="1"/>
<text x="336.3" y="435.2" text-anchor="middle" font-size="9.2">0</text>
<text x="356.6" y="435.2" text-anchor="middle" font-size="9.2">20</text>
<text x="351.6" y="443.2" text-anchor="middle" font-size="9.2">%</text>
<text transform="translate(338.0,104.75) rotate(-75.5)" font-size="10.75" font-style="italic">Miliolina</text>
<line x1="374.7" y1="108.6" x2="374.7" y2="423.2" stroke="#a8a8a8" stroke-width="1"/>
<rect x="374.6" y="240.96" width="12.4" height="1.7" fill="#cdcbc4"/>
<rect x="374.6" y="194.29" width="1.0" height="1.85" fill="#e4461e"/>
<rect x="374.6" y="205.94" width="1.3" height="1.85" fill="#e4461e"/>
<rect x="374.6" y="211.77" width="3.1" height="1.85" fill="#e4461e"/>
<rect x="374.6" y="217.59" width="1.7" height="1.85" fill="#e4461e"/>
<rect x="374.6" y="235.06" width="1.0" height="1.85" fill="#e4461e"/>
<path d="M374.7,426.7 L374.7,423.2 L384.8,423.2 L384.8,426.7" fill="none" stroke="#111" stroke-width="1"/>
<text x="374.7" y="435.2" text-anchor="middle" font-size="9.2">0</text>
<text x="380.4" y="443.2" text-anchor="middle" font-size="9.2">%</text>
<text transform="translate(377.75,104.45) rotate(-75.5)" font-size="10.75" font-style="italic">Nonionella iridea</text>
<line x1="391.3" y1="108.6" x2="391.3" y2="423.2" stroke="#a8a8a8" stroke-width="1"/>
<rect x="391.2" y="293.39" width="8.5" height="1.7" fill="#cdcbc4"/>
<rect x="391.2" y="182.64" width="2.4" height="1.85" fill="#e4461e"/>
<rect x="391.2" y="217.59" width="0.8" height="1.85" fill="#e4461e"/>
<rect x="391.2" y="223.41" width="6.9" height="1.85" fill="#e4461e"/>
<rect x="391.2" y="229.24" width="0.8" height="1.85" fill="#e4461e"/>
<rect x="391.2" y="255.45" width="0.8" height="1.85" fill="#e4461e"/>
<path d="M391.3,426.7 L391.3,423.2 L401.4,423.2 L401.4,426.7" fill="none" stroke="#111" stroke-width="1"/>
<text x="391.3" y="435.2" text-anchor="middle" font-size="9.2">0</text>
<text x="395.9" y="443.2" text-anchor="middle" font-size="9.2">%</text>
<text transform="translate(393.95,104.6) rotate(-75.5)" font-size="10.75" font-style="italic">Nonionella labradorica</text>
<line x1="411.5" y1="108.6" x2="411.5" y2="423.2" stroke="#a8a8a8" stroke-width="1"/>
<rect x="411.4" y="287.56" width="2.6" height="1.7" fill="#cdcbc4"/>
<rect x="411.4" y="299.21" width="25.7" height="1.7" fill="#cdcbc4"/>
<rect x="411.4" y="223.34" width="4.9" height="2.0" fill="#111"/>
<rect x="411.4" y="229.16" width="3.4" height="2.0" fill="#111"/>
<rect x="411.4" y="234.99" width="4.7" height="2.0" fill="#111"/>
<rect x="411.4" y="252.46" width="0.8" height="2.0" fill="#111"/>
<rect x="411.4" y="328.19" width="0.8" height="2.0" fill="#111"/>
<rect x="411.4" y="339.84" width="1.4" height="2.0" fill="#111"/>
<rect x="411.4" y="345.66" width="0.8" height="2.0" fill="#111"/>
<path d="M411.5,426.7 L411.5,423.2 L431.8,423.2 L431.8,426.7" fill="none" stroke="#111" stroke-width="1"/>
<line x1="421.6" y1="423.2" x2="421.6" y2="426.7" stroke="#111" stroke-width="1"/>
<text x="411.5" y="435.2" text-anchor="middle" font-size="9.2">0</text>
<text x="431.8" y="435.2" text-anchor="middle" font-size="9.2">20</text>
<text x="420.7" y="443.2" text-anchor="middle" font-size="9.2">%</text>
<text transform="translate(414.15,105.65) rotate(-75.5)" font-size="10.75" font-style="italic">Quinqueloculina sp</text>
<line x1="440.9" y1="108.6" x2="440.9" y2="423.2" stroke="#a8a8a8" stroke-width="1"/>
<rect x="440.8" y="281.74" width="17.3" height="1.7" fill="#cdcbc4"/>
<rect x="440.8" y="287.56" width="4.0" height="1.7" fill="#cdcbc4"/>
<rect x="440.8" y="293.39" width="8.2" height="1.7" fill="#cdcbc4"/>
<rect x="440.8" y="299.21" width="37.9" height="1.7" fill="#cdcbc4"/>
<rect x="440.8" y="310.86" width="37.9" height="1.7" fill="#cdcbc4"/>
<rect x="440.8" y="316.69" width="50.6" height="1.7" fill="#cdcbc4"/>
<rect x="440.8" y="322.51" width="67.4" height="1.7" fill="#cdcbc4"/>
<rect x="440.8" y="369.11" width="11.3" height="1.7" fill="#cdcbc4"/>
<rect x="440.8" y="176.82" width="101.4" height="1.85" fill="#4462b8"/>
<rect x="440.8" y="182.64" width="74.1" height="1.85" fill="#4462b8"/>
<rect x="440.8" y="188.47" width="71.2" height="1.85" fill="#4462b8"/>
<rect x="440.8" y="194.29" width="67.0" height="1.85" fill="#4462b8"/>
<rect x="440.8" y="200.12" width="46.2" height="1.85" fill="#4462b8"/>
<rect x="440.8" y="205.94" width="36.2" height="1.85" fill="#4462b8"/>
<rect x="440.8" y="211.77" width="16.1" height="1.85" fill="#4462b8"/>
<rect x="440.8" y="217.59" width="5.0" height="1.85" fill="#4462b8"/>
<rect x="440.8" y="223.41" width="5.2" height="1.85" fill="#4462b8"/>
<rect x="440.8" y="229.24" width="10.8" height="1.85" fill="#4462b8"/>
<rect x="440.8" y="235.06" width="19.0" height="1.85" fill="#4462b8"/>
<rect x="440.8" y="246.71" width="6.8" height="1.85" fill="#4462b8"/>
<rect x="440.8" y="252.54" width="38.1" height="1.85" fill="#4462b8"/>
<rect x="440.8" y="255.45" width="43.1" height="1.85" fill="#4462b8"/>
<rect x="440.8" y="261.28" width="49.5" height="1.85" fill="#4462b8"/>
<rect x="440.8" y="264.19" width="55.9" height="1.85" fill="#4462b8"/>
<rect x="440.8" y="270.01" width="32.2" height="1.85" fill="#4462b8"/>
<rect x="440.8" y="272.93" width="18.9" height="1.85" fill="#4462b8"/>
<rect x="440.8" y="328.26" width="3.4" height="1.85" fill="#4462b8"/>
<rect x="440.8" y="334.09" width="6.2" height="1.85" fill="#4462b8"/>
<rect x="440.8" y="339.91" width="8.5" height="1.85" fill="#4462b8"/>
<rect x="440.8" y="345.74" width="8.2" height="1.85" fill="#4462b8"/>
<rect x="440.8" y="351.56" width="13.8" height="1.85" fill="#4462b8"/>
<rect x="440.8" y="357.39" width="5.4" height="1.85" fill="#4462b8"/>
<rect x="440.8" y="364.67" width="10.3" height="1.85" fill="#4462b8"/>
<rect x="440.8" y="374.86" width="8.7" height="1.85" fill="#4462b8"/>
<path d="M440.9,426.7 L440.9,423.2 L542.4,423.2 L542.4,426.7" fill="none" stroke="#111" stroke-width="1"/>
<line x1="451.0" y1="423.2" x2="451.0" y2="426.7" stroke="#111" stroke-width="1"/>
<line x1="461.2" y1="423.2" x2="461.2" y2="426.7" stroke="#111" stroke-width="1"/>
<line x1="471.3" y1="423.2" x2="471.3" y2="426.7" stroke="#111" stroke-width="1"/>
<line x1="481.5" y1="423.2" x2="481.5" y2="426.7" stroke="#111" stroke-width="1"/>
<line x1="491.6" y1="423.2" x2="491.6" y2="426.7" stroke="#111" stroke-width="1"/>
<line x1="501.8" y1="423.2" x2="501.8" y2="426.7" stroke="#111" stroke-width="1"/>
<line x1="511.9" y1="423.2" x2="511.9" y2="426.7" stroke="#111" stroke-width="1"/>
<line x1="522.1" y1="423.2" x2="522.1" y2="426.7" stroke="#111" stroke-width="1"/>
<line x1="532.2" y1="423.2" x2="532.2" y2="426.7" stroke="#111" stroke-width="1"/>
<text x="440.9" y="435.2" text-anchor="middle" font-size="9.2">0</text>
<text x="461.2" y="435.2" text-anchor="middle" font-size="9.2">20</text>
<text x="481.5" y="435.2" text-anchor="middle" font-size="9.2">40</text>
<text x="501.8" y="435.2" text-anchor="middle" font-size="9.2">60</text>
<text x="522.1" y="435.2" text-anchor="middle" font-size="9.2">80</text>
<text x="541.2" y="435.2" text-anchor="middle" font-size="9.2">100</text>
<text x="491.3" y="443.2" text-anchor="middle" font-size="9.2">%</text>
<text transform="translate(443.25,105.75) rotate(-75.5)" font-size="10.75" font-style="italic">Stainforthia feylingi</text>
<line x1="554.6" y1="108.6" x2="554.6" y2="423.2" stroke="#a8a8a8" stroke-width="1"/>
<rect x="554.5" y="118.64" width="25.4" height="1.7" fill="#cdcbc4"/>
<rect x="554.5" y="141.94" width="51.2" height="1.7" fill="#cdcbc4"/>
<rect x="554.5" y="147.77" width="102.1" height="1.7" fill="#cdcbc4"/>
<rect x="554.5" y="159.42" width="102.1" height="1.7" fill="#cdcbc4"/>
<rect x="554.5" y="240.96" width="12.6" height="1.7" fill="#cdcbc4"/>
<rect x="554.5" y="281.74" width="47.3" height="1.7" fill="#cdcbc4"/>
<rect x="554.5" y="287.56" width="49.4" height="1.7" fill="#cdcbc4"/>
<rect x="554.5" y="293.39" width="34.0" height="1.7" fill="#cdcbc4"/>
<rect x="554.5" y="305.04" width="85.1" height="1.7" fill="#cdcbc4"/>
<rect x="554.5" y="310.86" width="38.3" height="1.7" fill="#cdcbc4"/>
<rect x="554.5" y="316.69" width="51.0" height="1.7" fill="#cdcbc4"/>
<rect x="554.5" y="322.51" width="34.0" height="1.7" fill="#cdcbc4"/>
<rect x="554.5" y="369.11" width="56.9" height="1.7" fill="#cdcbc4"/>
<rect x="554.5" y="108.38" width="42.6" height="1.85" fill="#4462b8"/>
<rect x="554.5" y="194.29" width="1.1" height="1.85" fill="#4462b8"/>
<rect x="554.5" y="200.12" width="10.9" height="1.85" fill="#4462b8"/>
<rect x="554.5" y="205.94" width="7.5" height="1.85" fill="#4462b8"/>
<rect x="554.5" y="211.77" width="11.1" height="1.85" fill="#4462b8"/>
<rect x="554.5" y="217.59" width="3.1" height="1.85" fill="#4462b8"/>
<rect x="554.5" y="223.41" width="7.9" height="1.85" fill="#4462b8"/>
<rect x="554.5" y="229.24" width="8.7" height="1.85" fill="#4462b8"/>
<rect x="554.5" y="235.06" width="12.0" height="1.85" fill="#4462b8"/>
<rect x="554.5" y="246.71" width="37.7" height="1.85" fill="#4462b8"/>
<rect x="554.5" y="252.54" width="25.4" height="1.85" fill="#4462b8"/>
<rect x="554.5" y="255.45" width="6.4" height="1.85" fill="#4462b8"/>
<rect x="554.5" y="261.28" width="13.0" height="1.85" fill="#4462b8"/>
<rect x="554.5" y="264.19" width="29.9" height="1.85" fill="#4462b8"/>
<rect x="554.5" y="270.01" width="54.3" height="1.85" fill="#4462b8"/>
<rect x="554.5" y="272.93" width="68.2" height="1.85" fill="#4462b8"/>
<rect x="554.5" y="328.26" width="91.1" height="1.85" fill="#4462b8"/>
<rect x="554.5" y="334.09" width="77.4" height="1.85" fill="#4462b8"/>
<rect x="554.5" y="339.91" width="77.4" height="1.85" fill="#4462b8"/>
<rect x="554.5" y="345.74" width="51.2" height="1.85" fill="#4462b8"/>
<rect x="554.5" y="351.56" width="54.7" height="1.85" fill="#4462b8"/>
<rect x="554.5" y="357.39" width="85.3" height="1.85" fill="#4462b8"/>
<rect x="554.5" y="364.67" width="71.4" height="1.85" fill="#4462b8"/>
<rect x="554.5" y="374.86" width="64.3" height="1.85" fill="#4462b8"/>
<path d="M554.6,426.7 L554.6,423.2 L656.1,423.2 L656.1,426.7" fill="none" stroke="#111" stroke-width="1"/>
<line x1="564.8" y1="423.2" x2="564.8" y2="426.7" stroke="#111" stroke-width="1"/>
<line x1="574.9" y1="423.2" x2="574.9" y2="426.7" stroke="#111" stroke-width="1"/>
<line x1="585.1" y1="423.2" x2="585.1" y2="426.7" stroke="#111" stroke-width="1"/>
<line x1="595.2" y1="423.2" x2="595.2" y2="426.7" stroke="#111" stroke-width="1"/>
<line x1="605.4" y1="423.2" x2="605.4" y2="426.7" stroke="#111" stroke-width="1"/>
<line x1="615.5" y1="423.2" x2="615.5" y2="426.7" stroke="#111" stroke-width="1"/>
<line x1="625.6" y1="423.2" x2="625.6" y2="426.7" stroke="#111" stroke-width="1"/>
<line x1="635.8" y1="423.2" x2="635.8" y2="426.7" stroke="#111" stroke-width="1"/>
<line x1="646.0" y1="423.2" x2="646.0" y2="426.7" stroke="#111" stroke-width="1"/>
<text x="554.6" y="435.2" text-anchor="middle" font-size="9.2">0</text>
<text x="574.9" y="435.2" text-anchor="middle" font-size="9.2">20</text>
<text x="595.2" y="435.2" text-anchor="middle" font-size="9.2">40</text>
<text x="615.5" y="435.2" text-anchor="middle" font-size="9.2">60</text>
<text x="635.8" y="435.2" text-anchor="middle" font-size="9.2">80</text>
<text x="653.1" y="435.2" text-anchor="middle" font-size="9.2">100</text>
<text x="605.9" y="443.2" text-anchor="middle" font-size="9.2">%</text>
<text transform="translate(556.85,104.9) rotate(-75.5)" font-size="10.75" font-style="italic">Stetsonia horvathi</text>
<line x1="665.4" y1="108.6" x2="665.4" y2="423.2" stroke="#a8a8a8" stroke-width="1"/>
<rect x="665.3" y="273.00" width="0.8" height="1.7" fill="#cdcbc4"/>
<rect x="665.3" y="281.74" width="4.8" height="1.7" fill="#cdcbc4"/>
<rect x="665.3" y="223.34" width="3.6" height="2.0" fill="#111"/>
<rect x="665.3" y="229.16" width="10.5" height="2.0" fill="#111"/>
<rect x="665.3" y="234.99" width="4.0" height="2.0" fill="#111"/>
<rect x="665.3" y="246.64" width="4.6" height="2.0" fill="#111"/>
<rect x="665.3" y="252.46" width="0.8" height="2.0" fill="#111"/>
<rect x="665.3" y="269.94" width="1.1" height="2.0" fill="#111"/>
<rect x="665.3" y="345.66" width="1.1" height="2.0" fill="#111"/>
<path d="M665.4,426.7 L665.4,423.2 L675.5,423.2 L675.5,426.7" fill="none" stroke="#111" stroke-width="1"/>
<text x="665.4" y="435.2" text-anchor="middle" font-size="9.2">0</text>
<text x="671.5" y="443.2" text-anchor="middle" font-size="9.2">%</text>
<text transform="translate(666.0,106.1) rotate(-75.5)" font-size="10.75" font-style="italic">Triloculina sp</text>
<line x1="141.3" y1="629.4" x2="554" y2="629.4" stroke="#454545" stroke-width="1.2"/>
<line x1="141.3" y1="668.5" x2="554" y2="668.5" stroke="#454545" stroke-width="1.2"/>
<line x1="141.3" y1="718.5" x2="554" y2="718.5" stroke="#454545" stroke-width="1.2"/>
<line x1="141.3" y1="839.6" x2="554" y2="839.6" stroke="#454545" stroke-width="1.2"/>
<line x1="141.3" y1="734.4" x2="554" y2="734.4" stroke="#444" stroke-width="1.2" stroke-dasharray="1.4 4.0"/>
<line x1="141.3" y1="781.2" x2="554" y2="781.2" stroke="#444" stroke-width="1.2" stroke-dasharray="1.4 4.0"/>
<line x1="520.4" y1="558" x2="520.4" y2="877.4" stroke="#333" stroke-width="1"/>
<line x1="554" y1="558" x2="554" y2="875.5" stroke="#333" stroke-width="1"/>
<text x="537.2" y="598.2" text-anchor="middle" font-size="11">FAZ5</text>
<text x="537.2" y="651.0" text-anchor="middle" font-size="11">FAZ4</text>
<text x="537.2" y="692.0" text-anchor="middle" font-size="11">FAZ3</text>
<text x="537.2" y="728.8" text-anchor="middle" font-size="11">FAZ2c</text>
<text x="537.2" y="762.0" text-anchor="middle" font-size="11">FAZ2b</text>
<text x="537.2" y="812.5" text-anchor="middle" font-size="11">FAZ2a</text>
<text x="537.2" y="862.8" text-anchor="middle" font-size="11">FAZ1</text>
<line x1="141.3" y1="562.5" x2="141.3" y2="877.4" stroke="#c2c2c2" stroke-width="1"/>
<line x1="228.6" y1="562.5" x2="228.6" y2="877.4" stroke="#c2c2c2" stroke-width="1"/>
<line x1="307.6" y1="562.5" x2="307.6" y2="877.4" stroke="#c2c2c2" stroke-width="1"/>
<line x1="372.6" y1="562.5" x2="372.6" y2="877.4" stroke="#c2c2c2" stroke-width="1"/>
<line x1="451.4" y1="562.5" x2="451.4" y2="877.4" stroke="#c2c2c2" stroke-width="1"/>
<polyline points="199.4,638.6 188.6,644.5 195.6,650.4 192.8,662.0 203.4,667.8 192.5,670.8 184.1,673.7 159.4,676.6 141.3,679.4 149.0,682.4 145.8,685.3 153.2,688.2 170.9,691.1 157.3,694.1 159.5,697.0 154.2,699.9 166.8,702.7 184.3,708.6 194.9,714.4 188.9,723.3 179.7,726.1 182.4,730.6 152.3,784.1 152.3,790.1 155.7,795.8 151.1,801.6 171.7,807.5 202.9,813.3 155.7,819.3 152.9,825.0 159.5,830.8" fill="none" stroke="#cfcfcf" stroke-width="0.75"/>
<circle cx="199.4" cy="638.6" r="1.6" fill="#000"/>
<circle cx="188.6" cy="644.5" r="1.6" fill="#000"/>
<circle cx="195.6" cy="650.4" r="1.6" fill="#000"/>
<circle cx="192.8" cy="662.0" r="1.6" fill="#000"/>
<circle cx="203.4" cy="667.8" r="1.6" fill="#000"/>
<circle cx="192.5" cy="670.8" r="1.6" fill="#000"/>
<circle cx="184.1" cy="673.7" r="1.6" fill="#000"/>
<circle cx="159.4" cy="676.6" r="1.6" fill="#000"/>
<circle cx="141.3" cy="679.4" r="1.6" fill="#000"/>
<circle cx="149.0" cy="682.4" r="1.6" fill="#000"/>
<circle cx="145.8" cy="685.3" r="1.6" fill="#000"/>
<circle cx="153.2" cy="688.2" r="1.6" fill="#000"/>
<circle cx="170.9" cy="691.1" r="1.6" fill="#000"/>
<circle cx="157.3" cy="694.1" r="1.6" fill="#000"/>
<circle cx="159.5" cy="697.0" r="1.6" fill="#000"/>
<circle cx="154.2" cy="699.9" r="1.6" fill="#000"/>
<circle cx="166.8" cy="702.7" r="1.6" fill="#000"/>
<circle cx="184.3" cy="708.6" r="1.6" fill="#000"/>
<circle cx="194.9" cy="714.4" r="1.6" fill="#000"/>
<circle cx="188.9" cy="723.3" r="1.6" fill="#000"/>
<circle cx="179.7" cy="726.1" r="1.6" fill="#000"/>
<circle cx="182.4" cy="730.6" r="1.6" fill="#000"/>
<circle cx="152.3" cy="784.1" r="1.6" fill="#000"/>
<circle cx="152.3" cy="790.1" r="1.6" fill="#000"/>
<circle cx="155.7" cy="795.8" r="1.6" fill="#000"/>
<circle cx="151.1" cy="801.6" r="1.6" fill="#000"/>
<circle cx="171.7" cy="807.5" r="1.6" fill="#000"/>
<circle cx="202.9" cy="813.3" r="1.6" fill="#000"/>
<circle cx="155.7" cy="819.3" r="1.6" fill="#000"/>
<circle cx="152.9" cy="825.0" r="1.6" fill="#000"/>
<circle cx="159.5" cy="830.8" r="1.6" fill="#000"/>
<polyline points="229.0,563.1 229.0,567.5 229.0,573.3 229.0,579.2 229.0,585.0 229.0,590.9 229.0,596.7 229.0,602.6 229.0,608.4 229.0,614.3 229.0,620.1 229.0,626.0 229.0,631.8 229.0,637.7 229.0,643.5 229.7,649.4 231.7,655.2 233.1,661.1 236.0,666.9 280.4,672.8 238.4,678.6 240.4,684.5 234.4,690.3 228.6,696.2 232.4,702.0 235.5,707.9 235.8,710.8 241.7,716.7 245.9,719.6 249.4,725.4 238.6,728.4 230.3,737.1 229.6,743.0 229.0,748.8 229.0,754.7 229.0,760.5 229.0,766.4 229.0,772.2 229.0,778.1 229.9,783.9 230.4,789.8 229.6,795.6 229.4,801.5 229.4,807.3 230.0,813.2 229.8,820.5 229.5,824.9 264.4,830.7" fill="none" stroke="#cfcfcf" stroke-width="0.75"/>
<circle cx="229.0" cy="563.1" r="1.6" fill="#000"/>
<circle cx="229.0" cy="567.5" r="1.6" fill="#000"/>
<circle cx="229.0" cy="573.3" r="1.6" fill="#000"/>
<circle cx="229.0" cy="579.2" r="1.6" fill="#000"/>
<circle cx="229.0" cy="585.0" r="1.6" fill="#000"/>
<circle cx="229.0" cy="590.9" r="1.6" fill="#000"/>
<circle cx="229.0" cy="596.7" r="1.6" fill="#000"/>
<circle cx="229.0" cy="602.6" r="1.6" fill="#000"/>
<circle cx="229.0" cy="608.4" r="1.6" fill="#000"/>
<circle cx="229.0" cy="614.3" r="1.6" fill="#000"/>
<circle cx="229.0" cy="620.1" r="1.6" fill="#000"/>
<circle cx="229.0" cy="626.0" r="1.6" fill="#000"/>
<circle cx="229.0" cy="631.8" r="1.6" fill="#000"/>
<circle cx="229.0" cy="637.7" r="1.6" fill="#000"/>
<circle cx="229.0" cy="643.5" r="1.6" fill="#000"/>
<circle cx="229.7" cy="649.4" r="1.6" fill="#000"/>
<circle cx="231.7" cy="655.2" r="1.6" fill="#000"/>
<circle cx="233.1" cy="661.1" r="1.6" fill="#000"/>
<circle cx="236.0" cy="666.9" r="1.6" fill="#000"/>
<circle cx="280.4" cy="672.8" r="1.6" fill="#000"/>
<circle cx="238.4" cy="678.6" r="1.6" fill="#000"/>
<circle cx="240.4" cy="684.5" r="1.6" fill="#000"/>
<circle cx="234.4" cy="690.3" r="1.6" fill="#000"/>
<circle cx="228.6" cy="696.2" r="1.6" fill="#000"/>
<circle cx="232.4" cy="702.0" r="1.6" fill="#000"/>
<circle cx="235.5" cy="707.9" r="1.6" fill="#000"/>
<circle cx="235.8" cy="710.8" r="1.6" fill="#000"/>
<circle cx="241.7" cy="716.7" r="1.6" fill="#000"/>
<circle cx="245.9" cy="719.6" r="1.6" fill="#000"/>
<circle cx="249.4" cy="725.4" r="1.6" fill="#000"/>
<circle cx="238.6" cy="728.4" r="1.6" fill="#000"/>
<circle cx="230.3" cy="737.1" r="1.6" fill="#000"/>
<circle cx="229.6" cy="743.0" r="1.6" fill="#000"/>
<circle cx="229.0" cy="748.8" r="1.6" fill="#000"/>
<circle cx="229.0" cy="754.7" r="1.6" fill="#000"/>
<circle cx="229.0" cy="760.5" r="1.6" fill="#000"/>
<circle cx="229.0" cy="766.4" r="1.6" fill="#000"/>
<circle cx="229.0" cy="772.2" r="1.6" fill="#000"/>
<circle cx="229.0" cy="778.1" r="1.6" fill="#000"/>
<circle cx="229.9" cy="783.9" r="1.6" fill="#000"/>
<circle cx="230.4" cy="789.8" r="1.6" fill="#000"/>
<circle cx="229.6" cy="795.6" r="1.6" fill="#000"/>
<circle cx="229.4" cy="801.5" r="1.6" fill="#000"/>
<circle cx="229.4" cy="807.3" r="1.6" fill="#000"/>
<circle cx="230.0" cy="813.2" r="1.6" fill="#000"/>
<circle cx="229.8" cy="820.5" r="1.6" fill="#000"/>
<circle cx="229.5" cy="824.9" r="1.6" fill="#000"/>
<circle cx="264.4" cy="830.7" r="1.6" fill="#000"/>
<polyline points="307.7,563.1 307.7,567.5 307.7,573.3 307.7,579.2 307.7,585.0 307.7,590.9 307.7,596.7 307.7,602.6 307.7,608.4 307.7,614.3 307.7,620.1 307.7,626.0 307.7,631.8 307.7,637.7 307.7,643.5 308.0,649.4 309.4,655.2 310.6,661.1 313.8,666.9 361.8,672.8 323.6,678.6 325.6,684.5 320.7,690.3 308.1,696.2 314.1,702.0 310.3,707.9 308.4,710.8 308.4,716.7 308.4,719.6 307.8,725.4 307.8,728.4 307.7,737.1 307.7,743.0 307.7,748.8 307.7,754.7 307.7,760.5 307.7,766.4 307.7,772.2 307.7,778.1 307.7,783.9 307.7,789.8 307.7,795.6 307.7,801.5 307.7,807.3 307.7,813.2 307.7,820.5 307.7,824.9 312.5,830.7" fill="none" stroke="#cfcfcf" stroke-width="0.75"/>
<circle cx="307.7" cy="563.1" r="1.6" fill="#000"/>
<circle cx="307.7" cy="567.5" r="1.6" fill="#000"/>
<circle cx="307.7" cy="573.3" r="1.6" fill="#000"/>
<circle cx="307.7" cy="579.2" r="1.6" fill="#000"/>
<circle cx="307.7" cy="585.0" r="1.6" fill="#000"/>
<circle cx="307.7" cy="590.9" r="1.6" fill="#000"/>
<circle cx="307.7" cy="596.7" r="1.6" fill="#000"/>
<circle cx="307.7" cy="602.6" r="1.6" fill="#000"/>
<circle cx="307.7" cy="608.4" r="1.6" fill="#000"/>
<circle cx="307.7" cy="614.3" r="1.6" fill="#000"/>
<circle cx="307.7" cy="620.1" r="1.6" fill="#000"/>
<circle cx="307.7" cy="626.0" r="1.6" fill="#000"/>
<circle cx="307.7" cy="631.8" r="1.6" fill="#000"/>
<circle cx="307.7" cy="637.7" r="1.6" fill="#000"/>
<circle cx="307.7" cy="643.5" r="1.6" fill="#000"/>
<circle cx="308.0" cy="649.4" r="1.6" fill="#000"/>
<circle cx="309.4" cy="655.2" r="1.6" fill="#000"/>
<circle cx="310.6" cy="661.1" r="1.6" fill="#000"/>
<circle cx="313.8" cy="666.9" r="1.6" fill="#000"/>
<circle cx="323.6" cy="678.6" r="1.6" fill="#000"/>
<circle cx="325.6" cy="684.5" r="1.6" fill="#000"/>
<circle cx="320.7" cy="690.3" r="1.6" fill="#000"/>
<circle cx="308.1" cy="696.2" r="1.6" fill="#000"/>
<circle cx="314.1" cy="702.0" r="1.6" fill="#000"/>
<circle cx="310.3" cy="707.9" r="1.6" fill="#000"/>
<circle cx="308.4" cy="710.8" r="1.6" fill="#000"/>
<circle cx="308.4" cy="716.7" r="1.6" fill="#000"/>
<circle cx="308.4" cy="719.6" r="1.6" fill="#000"/>
<circle cx="307.8" cy="725.4" r="1.6" fill="#000"/>
<circle cx="307.8" cy="728.4" r="1.6" fill="#000"/>
<circle cx="307.7" cy="737.1" r="1.6" fill="#000"/>
<circle cx="307.7" cy="743.0" r="1.6" fill="#000"/>
<circle cx="307.7" cy="748.8" r="1.6" fill="#000"/>
<circle cx="307.7" cy="754.7" r="1.6" fill="#000"/>
<circle cx="307.7" cy="760.5" r="1.6" fill="#000"/>
<circle cx="307.7" cy="766.4" r="1.6" fill="#000"/>
<circle cx="307.7" cy="772.2" r="1.6" fill="#000"/>
<circle cx="307.7" cy="778.1" r="1.6" fill="#000"/>
<circle cx="307.7" cy="783.9" r="1.6" fill="#000"/>
<circle cx="307.7" cy="789.8" r="1.6" fill="#000"/>
<circle cx="307.7" cy="795.6" r="1.6" fill="#000"/>
<circle cx="307.7" cy="801.5" r="1.6" fill="#000"/>
<circle cx="307.7" cy="807.3" r="1.6" fill="#000"/>
<circle cx="307.7" cy="813.2" r="1.6" fill="#000"/>
<circle cx="307.7" cy="820.5" r="1.6" fill="#000"/>
<circle cx="307.7" cy="824.9" r="1.6" fill="#000"/>
<circle cx="312.5" cy="830.7" r="1.6" fill="#000"/>
<polyline points="373.3,563.1 372.9,567.5 372.9,573.3 372.9,579.2 372.9,585.0 372.9,590.9 372.9,596.7 372.9,602.6 372.9,608.4 372.9,614.3 372.9,620.1 372.9,626.0 372.9,631.8 372.9,637.7 372.9,643.5 373.6,649.4 376.3,655.2 377.7,661.1 380.5,666.9 430.4,672.8 383.6,678.6 385.1,684.5 378.7,690.3 372.6,696.2 376.6,702.0 379.8,707.9 382.4,710.8 410.1,716.7 423.1,719.6 433.4,725.4 401.5,728.4 377.4,737.1 375.3,743.0 373.2,748.8 372.9,754.7 372.9,760.5 372.9,766.4 372.9,772.2 372.9,778.1 376.0,783.9 377.5,789.8 375.8,795.6 374.0,801.5 374.5,807.3 376.0,813.2 374.3,820.5 373.8,824.9 432.5,830.7" fill="none" stroke="#cfcfcf" stroke-width="0.75"/>
<circle cx="373.3" cy="563.1" r="1.6" fill="#000"/>
<circle cx="372.9" cy="567.5" r="1.6" fill="#000"/>
<circle cx="372.9" cy="573.3" r="1.6" fill="#000"/>
<circle cx="372.9" cy="579.2" r="1.6" fill="#000"/>
<circle cx="372.9" cy="585.0" r="1.6" fill="#000"/>
<circle cx="372.9" cy="590.9" r="1.6" fill="#000"/>
<circle cx="372.9" cy="596.7" r="1.6" fill="#000"/>
<circle cx="372.9" cy="602.6" r="1.6" fill="#000"/>
<circle cx="372.9" cy="608.4" r="1.6" fill="#000"/>
<circle cx="372.9" cy="614.3" r="1.6" fill="#000"/>
<circle cx="372.9" cy="620.1" r="1.6" fill="#000"/>
<circle cx="372.9" cy="626.0" r="1.6" fill="#000"/>
<circle cx="372.9" cy="631.8" r="1.6" fill="#000"/>
<circle cx="372.9" cy="637.7" r="1.6" fill="#000"/>
<circle cx="372.9" cy="643.5" r="1.6" fill="#000"/>
<circle cx="373.6" cy="649.4" r="1.6" fill="#000"/>
<circle cx="376.3" cy="655.2" r="1.6" fill="#000"/>
<circle cx="377.7" cy="661.1" r="1.6" fill="#000"/>
<circle cx="380.5" cy="666.9" r="1.6" fill="#000"/>
<circle cx="430.4" cy="672.8" r="1.6" fill="#000"/>
<circle cx="383.6" cy="678.6" r="1.6" fill="#000"/>
<circle cx="385.1" cy="684.5" r="1.6" fill="#000"/>
<circle cx="378.7" cy="690.3" r="1.6" fill="#000"/>
<circle cx="372.6" cy="696.2" r="1.6" fill="#000"/>
<circle cx="376.6" cy="702.0" r="1.6" fill="#000"/>
<circle cx="379.8" cy="707.9" r="1.6" fill="#000"/>
<circle cx="382.4" cy="710.8" r="1.6" fill="#000"/>
<circle cx="410.1" cy="716.7" r="1.6" fill="#000"/>
<circle cx="423.1" cy="719.6" r="1.6" fill="#000"/>
<circle cx="433.4" cy="725.4" r="1.6" fill="#000"/>
<circle cx="401.5" cy="728.4" r="1.6" fill="#000"/>
<circle cx="377.4" cy="737.1" r="1.6" fill="#000"/>
<circle cx="375.3" cy="743.0" r="1.6" fill="#000"/>
<circle cx="373.2" cy="748.8" r="1.6" fill="#000"/>
<circle cx="372.9" cy="754.7" r="1.6" fill="#000"/>
<circle cx="372.9" cy="760.5" r="1.6" fill="#000"/>
<circle cx="372.9" cy="766.4" r="1.6" fill="#000"/>
<circle cx="372.9" cy="772.2" r="1.6" fill="#000"/>
<circle cx="372.9" cy="778.1" r="1.6" fill="#000"/>
<circle cx="376.0" cy="783.9" r="1.6" fill="#000"/>
<circle cx="377.5" cy="789.8" r="1.6" fill="#000"/>
<circle cx="375.8" cy="795.6" r="1.6" fill="#000"/>
<circle cx="374.0" cy="801.5" r="1.6" fill="#000"/>
<circle cx="374.5" cy="807.3" r="1.6" fill="#000"/>
<circle cx="376.0" cy="813.2" r="1.6" fill="#000"/>
<circle cx="374.3" cy="820.5" r="1.6" fill="#000"/>
<circle cx="373.8" cy="824.9" r="1.6" fill="#000"/>
<circle cx="432.5" cy="830.7" r="1.6" fill="#000"/>
<polyline points="451.4,563.1 451.4,567.5 451.4,573.3 451.4,579.2 451.4,585.0 451.4,590.9 451.4,596.7 451.4,602.6 451.4,608.4 451.4,614.3 451.4,620.1 451.4,626.0 451.4,631.8 451.4,637.7 451.4,643.5 451.9,649.4 453.5,655.2 455.4,661.1 458.5,666.9 517.3,672.8 470.7,678.6 472.3,684.5 466.5,690.3 451.5,696.2 458.7,702.0 454.4,707.9 451.9,710.8 452.9,716.7 452.9,719.6 450.9,725.4 451.9,728.4 451.4,737.1 451.4,743.0 451.4,748.8 451.4,754.7 451.4,760.5 451.4,766.4 451.4,772.2 451.4,778.1 451.4,783.9 451.4,789.8 451.4,795.6 451.4,801.5 451.4,807.3 451.4,813.2 451.4,820.5 451.4,824.9 459.8,830.7" fill="none" stroke="#cfcfcf" stroke-width="0.75"/>
<circle cx="451.4" cy="563.1" r="1.6" fill="#000"/>
<circle cx="451.4" cy="567.5" r="1.6" fill="#000"/>
<circle cx="451.4" cy="573.3" r="1.6" fill="#000"/>
<circle cx="451.4" cy="579.2" r="1.6" fill="#000"/>
<circle cx="451.4" cy="585.0" r="1.6" fill="#000"/>
<circle cx="451.4" cy="590.9" r="1.6" fill="#000"/>
<circle cx="451.4" cy="596.7" r="1.6" fill="#000"/>
<circle cx="451.4" cy="602.6" r="1.6" fill="#000"/>
<circle cx="451.4" cy="608.4" r="1.6" fill="#000"/>
<circle cx="451.4" cy="614.3" r="1.6" fill="#000"/>
<circle cx="451.4" cy="620.1" r="1.6" fill="#000"/>
<circle cx="451.4" cy="626.0" r="1.6" fill="#000"/>
<circle cx="451.4" cy="631.8" r="1.6" fill="#000"/>
<circle cx="451.4" cy="637.7" r="1.6" fill="#000"/>
<circle cx="451.4" cy="643.5" r="1.6" fill="#000"/>
<circle cx="451.9" cy="649.4" r="1.6" fill="#000"/>
<circle cx="453.5" cy="655.2" r="1.6" fill="#000"/>
<circle cx="455.4" cy="661.1" r="1.6" fill="#000"/>
<circle cx="458.5" cy="666.9" r="1.6" fill="#000"/>
<circle cx="517.3" cy="672.8" r="1.6" fill="#000"/>
<circle cx="470.7" cy="678.6" r="1.6" fill="#000"/>
<circle cx="472.3" cy="684.5" r="1.6" fill="#000"/>
<circle cx="466.5" cy="690.3" r="1.6" fill="#000"/>
<circle cx="451.5" cy="696.2" r="1.6" fill="#000"/>
<circle cx="458.7" cy="702.0" r="1.6" fill="#000"/>
<circle cx="454.4" cy="707.9" r="1.6" fill="#000"/>
<circle cx="451.9" cy="710.8" r="1.6" fill="#000"/>
<circle cx="452.9" cy="716.7" r="1.6" fill="#000"/>
<circle cx="452.9" cy="719.6" r="1.6" fill="#000"/>
<circle cx="450.9" cy="725.4" r="1.6" fill="#000"/>
<circle cx="451.9" cy="728.4" r="1.6" fill="#000"/>
<circle cx="451.4" cy="737.1" r="1.6" fill="#000"/>
<circle cx="451.4" cy="743.0" r="1.6" fill="#000"/>
<circle cx="451.4" cy="748.8" r="1.6" fill="#000"/>
<circle cx="451.4" cy="754.7" r="1.6" fill="#000"/>
<circle cx="451.4" cy="760.5" r="1.6" fill="#000"/>
<circle cx="451.4" cy="766.4" r="1.6" fill="#000"/>
<circle cx="451.4" cy="772.2" r="1.6" fill="#000"/>
<circle cx="451.4" cy="778.1" r="1.6" fill="#000"/>
<circle cx="451.4" cy="783.9" r="1.6" fill="#000"/>
<circle cx="451.4" cy="789.8" r="1.6" fill="#000"/>
<circle cx="451.4" cy="795.6" r="1.6" fill="#000"/>
<circle cx="451.4" cy="801.5" r="1.6" fill="#000"/>
<circle cx="451.4" cy="807.3" r="1.6" fill="#000"/>
<circle cx="451.4" cy="813.2" r="1.6" fill="#000"/>
<circle cx="451.4" cy="820.5" r="1.6" fill="#000"/>
<circle cx="451.4" cy="824.9" r="1.6" fill="#000"/>
<circle cx="459.8" cy="830.7" r="1.6" fill="#000"/>
<path d="M143.4,880.9 L143.4,877.4 L199.5,877.4 L199.5,880.9" fill="none" stroke="#111" stroke-width="1"/>
<line x1="157.4" y1="877.4" x2="157.4" y2="880.9" stroke="#111" stroke-width="1"/>
<line x1="171.5" y1="877.4" x2="171.5" y2="880.9" stroke="#111" stroke-width="1"/>
<line x1="185.5" y1="877.4" x2="185.5" y2="880.9" stroke="#111" stroke-width="1"/>
<text x="144.5" y="889.2" text-anchor="middle" font-size="9.3">1.5</text>
<text x="171.5" y="889.2" text-anchor="middle" font-size="9.3">2.5</text>
<text x="199.5" y="889.2" text-anchor="middle" font-size="9.3">3.5</text>
<path d="M228.4,880.9 L228.4,877.4 L284.7,877.4 L284.7,880.9" fill="none" stroke="#111" stroke-width="1"/>
<line x1="242.5" y1="877.4" x2="242.5" y2="880.9" stroke="#111" stroke-width="1"/>
<line x1="256.5" y1="877.4" x2="256.5" y2="880.9" stroke="#111" stroke-width="1"/>
<line x1="270.6" y1="877.4" x2="270.6" y2="880.9" stroke="#111" stroke-width="1"/>
<text x="229.0" y="889.2" text-anchor="middle" font-size="9.3">0</text>
<text x="256.5" y="889.2" text-anchor="middle" font-size="9.3">2000</text>
<text x="284.7" y="889.2" text-anchor="middle" font-size="9.3">4000</text>
<path d="M307.4,880.9 L307.4,877.4 L364.5,877.4 L364.5,880.9" fill="none" stroke="#111" stroke-width="1"/>
<line x1="318.8" y1="877.4" x2="318.8" y2="880.9" stroke="#111" stroke-width="1"/>
<line x1="330.2" y1="877.4" x2="330.2" y2="880.9" stroke="#111" stroke-width="1"/>
<line x1="341.6" y1="877.4" x2="341.6" y2="880.9" stroke="#111" stroke-width="1"/>
<line x1="353.0" y1="877.4" x2="353.0" y2="880.9" stroke="#111" stroke-width="1"/>
<text x="308.0" y="889.2" text-anchor="middle" font-size="9.3">0</text>
<text x="330.2" y="889.2" text-anchor="middle" font-size="9.3">1000</text>
<text x="353.0" y="889.2" text-anchor="middle" font-size="9.3">2000</text>
<path d="M372.5,880.9 L372.5,877.4 L438.3,877.4 L438.3,880.9" fill="none" stroke="#111" stroke-width="1"/>
<line x1="391.3" y1="877.4" x2="391.3" y2="880.9" stroke="#111" stroke-width="1"/>
<line x1="410.1" y1="877.4" x2="410.1" y2="880.9" stroke="#111" stroke-width="1"/>
<line x1="428.9" y1="877.4" x2="428.9" y2="880.9" stroke="#111" stroke-width="1"/>
<text x="373.0" y="889.2" text-anchor="middle" font-size="9.3">0</text>
<text x="410.1" y="889.2" text-anchor="middle" font-size="9.3">20</text>
<path d="M451.1,877.4 L517.6,877.4" fill="none" stroke="#111" stroke-width="1"/>
<line x1="451.1" y1="877.4" x2="451.1" y2="880.9" stroke="#111" stroke-width="1"/>
<line x1="484.4" y1="877.4" x2="484.4" y2="880.9" stroke="#111" stroke-width="1"/>
<line x1="517.6" y1="877.4" x2="517.6" y2="880.9" stroke="#111" stroke-width="1"/>
<text x="451.6" y="889.2" text-anchor="middle" font-size="9.3">0</text>
<text x="484.4" y="889.2" text-anchor="middle" font-size="9.3">10</text>
<text x="517.6" y="889.2" text-anchor="middle" font-size="9.3">20</text>
<text transform="translate(146.5,559.15) rotate(-75.5)" font-size="10.84"><tspan>δ</tspan><tspan font-size="52%" dy="-0.4em">18</tspan><tspan dy="0.4em">O ‰ </tspan><tspan font-style="italic">Planktic foram</tspan></text>
<text transform="translate(234.1,557.5) rotate(-75.5)" font-size="10.48" font-style="italic">Benthic concentrations</text>
<text transform="translate(254.55,526.7) rotate(-75.5)" font-size="10.18" font-style="italic">per 1ml</text>
<text transform="translate(311.6,557.65) rotate(-75.5)" font-size="10.52" font-style="italic">Planktic concentrations</text>
<text transform="translate(331.85,524.35) rotate(-75.5)" font-size="9.72" font-style="italic">per 1ml</text>
<text transform="translate(381.55,544.6) rotate(-75.5)" font-size="10.69" font-style="italic">Benthic FAR</text>
<text transform="translate(389.3,558.5) rotate(-75.5)" font-size="10.54" font-style="italic">(k individ/cm<tspan font-size="60%" dy="-0.38em">2</tspan><tspan dy="0.38em">/kyr)</tspan></text>
<text transform="translate(458.85,545.05) rotate(-75.5)" font-size="10.55" font-style="italic">Planktic FAR</text>
<text transform="translate(467.65,557.75) rotate(-75.5)" font-size="10.41" font-style="italic">(k individ/cm<tspan font-size="60%" dy="-0.38em">2</tspan><tspan dy="0.38em">/kyr)</tspan></text>
<text transform="translate(529.0,542.35) rotate(-75.5)" font-size="10.46" font-style="italic">Foraminiferal</text>
<text transform="translate(537.45,558.25) rotate(-75.5)" font-size="10.8" font-style="italic">Assemblage Zone</text>
</svg>
</body></html>
